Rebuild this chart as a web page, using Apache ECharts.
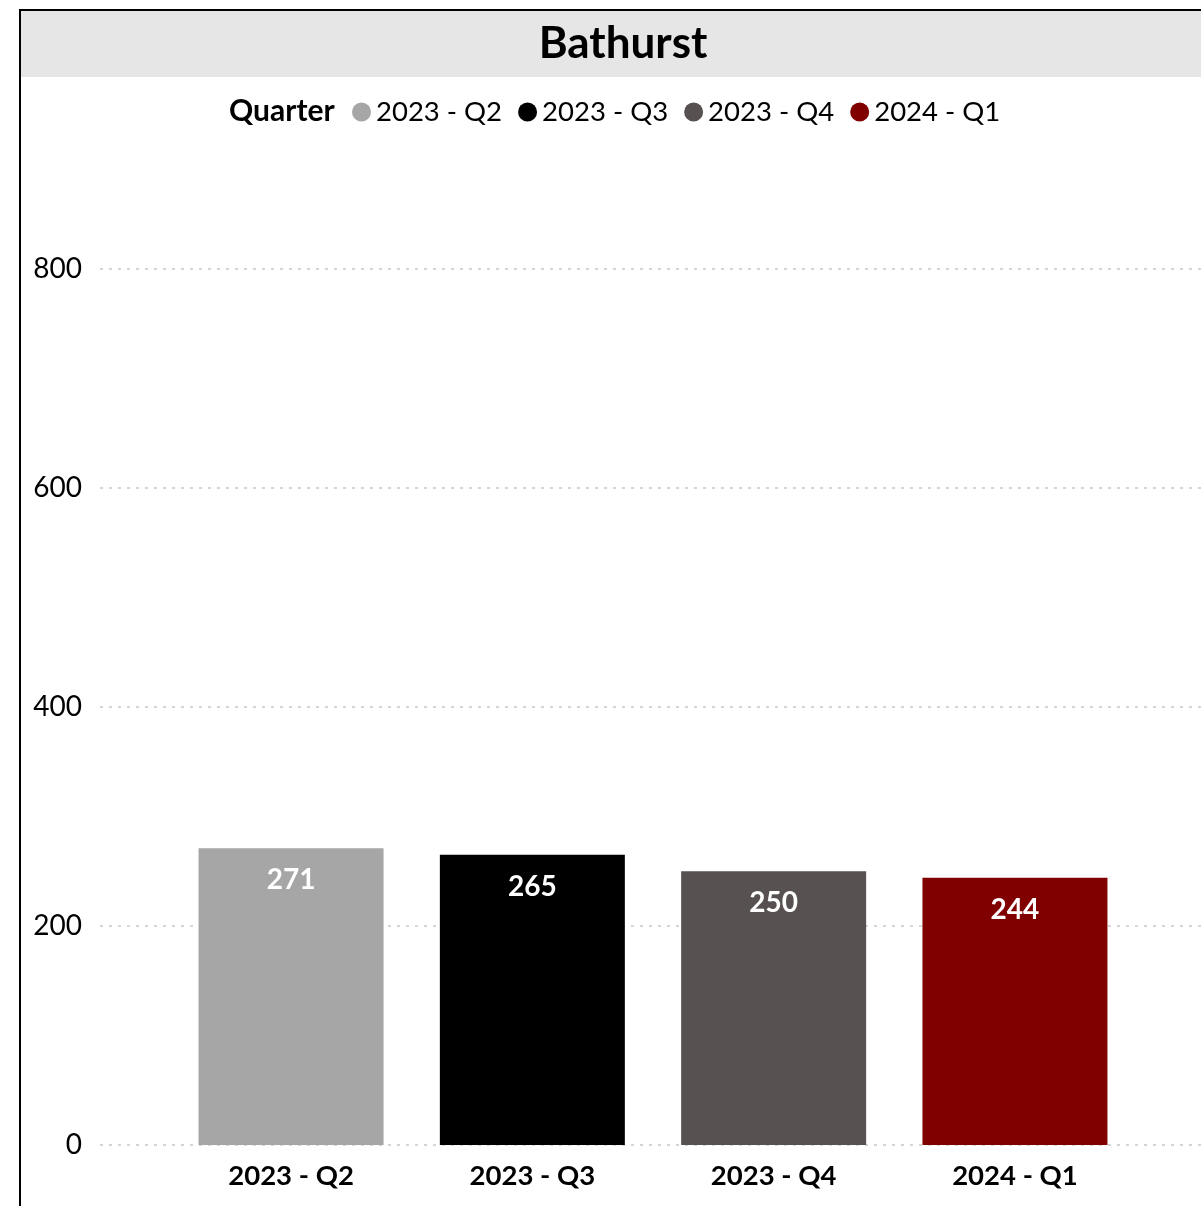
<!DOCTYPE html>
<html><head><meta charset="utf-8">
<script src="https://cdn.jsdelivr.net/npm/echarts@6/dist/echarts.min.js"></script>
<style>html,body{margin:0;padding:0;background:#fff}#c{width:1201px;height:1206px}</style>
</head><body><div id="c"></div>
<script>
var categories = ['2023 - Q2', '2023 - Q3', '2023 - Q4', '2024 - Q1'];
var values = [271, 265, 250, 244];
var colors = ['#a6a6a6', '#000000', '#575151', '#800000'];
var yTicks = [0, 200, 400, 600, 800];
var FONT = 'Lato';

var chart = echarts.init(document.getElementById('c'), null, {renderer: 'canvas'});
var series = categories.map(function (name, k) {
  return {
    name: name, type: 'bar', xAxisIndex: 1, yAxisIndex: 1,
    barWidth: 185, barGap: '-100%',
    itemStyle: {color: colors[k]},
    label: {show: true, position: 'insideTop', distance: 18, color: '#fff',
      fontFamily: FONT, fontWeight: 'bold', fontSize: 28},
    data: categories.map(function (c, i) { return i === k ? values[k] : null; })
  };
});
var gridTop = 269, gridBottom = 61;
chart.setOption({
  animation: false,
  textStyle: {fontFamily: FONT},
  graphic: [
    {type: 'rect', shape: {x: 21, y: 11, width: 1180, height: 66}, style: {fill: '#e6e6e6'}, z: 0},
    {type: 'line', shape: {x1: 20, y1: 10, x2: 1201, y2: 10}, style: {stroke: '#000', lineWidth: 2}, z: 10},
    {type: 'line', shape: {x1: 20, y1: 9, x2: 20, y2: 1206}, style: {stroke: '#000', lineWidth: 2}, z: 10},
    {type: 'text', left: 229, top: 96, style: {text: 'Quarter', fontFamily: FONT, fontWeight: 'bold', fontSize: 30, fill: '#000'}, z: 10}
  ],
  title: {text: 'Bathurst', left: 618, top: 17, textAlign: 'center',
    textStyle: {fontFamily: FONT, fontWeight: 'bold', fontSize: 44, color: '#000'}},
  legend: {left: 347, top: 93, itemWidth: 19, itemHeight: 19, itemGap: 16, icon: 'circle',
    textStyle: {fontFamily: FONT, fontSize: 27.5, color: '#000'},
    data: categories},
  grid: [
    {left: 100, right: 0, top: gridTop, bottom: gridBottom},
    {left: 170.4, right: 65.4, top: gridTop, bottom: gridBottom}
  ],
  xAxis: [
    {type: 'value', gridIndex: 0, min: 0, max: 1, show: false},
    {type: 'category', gridIndex: 1, data: categories,
      axisLine: {show: false}, axisTick: {show: false},
      axisLabel: {margin: 17, color: '#000', fontFamily: FONT, fontWeight: 'bold', fontSize: 27.5}}
  ],
  yAxis: [
    {type: 'value', gridIndex: 0, min: 0, max: 800, interval: 200,
      axisLine: {show: false}, axisTick: {show: false},
      axisLabel: {margin: 18, color: '#000', fontFamily: FONT, fontSize: 28,
        formatter: function (v) { return yTicks.indexOf(v) >= 0 ? String(v) : ''; }},
      splitLine: {show: true, lineStyle: {color: '#c8c8c8', width: 1.5, type: [3, 6]}}},
    {type: 'value', gridIndex: 1, min: 0, max: 800, show: false, splitLine: {show: false}}
  ],
  series: series
});
</script></body></html>
